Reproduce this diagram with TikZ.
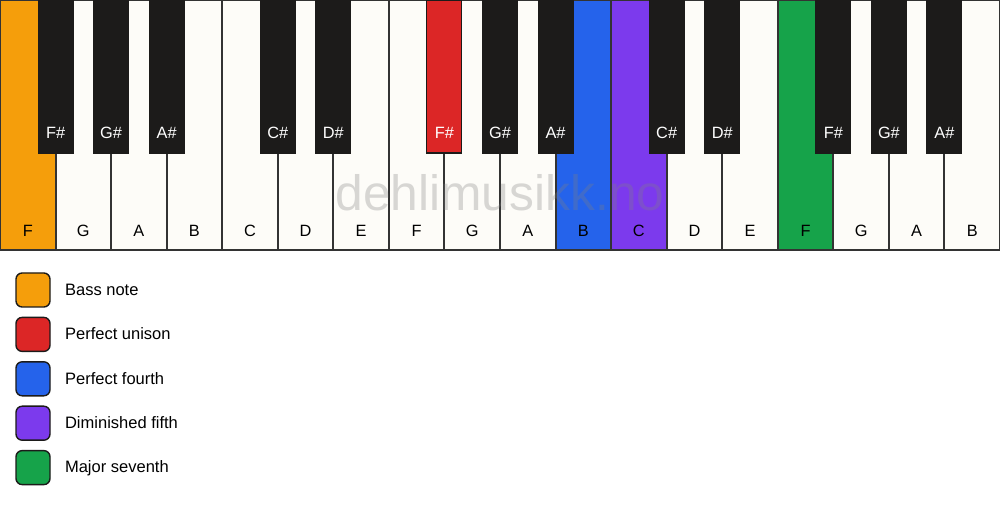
\documentclass[tikz,border=0pt]{standalone}
\usepackage{fontspec}
\setmainfont{Liberation Sans}
\usetikzlibrary{positioning}

\definecolor{keywhite}{HTML}{FDFCF8}
\definecolor{keyblack}{HTML}{1C1B1A}
\definecolor{keyedge}{HTML}{333333}
\definecolor{bassorange}{HTML}{F59E0B}
\definecolor{unisonred}{HTML}{DC2626}
\definecolor{fourthblue}{HTML}{2563EB}
\definecolor{fifthpurple}{HTML}{7C3AED}
\definecolor{seventhgreen}{HTML}{16A34A}

\tikzset{
  whitekey/.style={draw=keyedge, line width=1.1pt, fill=#1, rectangle, inner sep=0pt,
    minimum width=55.556*0.02cm, minimum height=250*0.02cm},
  whitekey/.default=keywhite,
  blackkey/.style={draw=keyblack, line width=0.6pt, fill=#1, rectangle, inner sep=0pt,
    minimum width=35*0.02cm, minimum height=153*0.02cm},
  blackkey/.default=keyblack,
  wname/.style={text=black, font=\fontsize{9.3}{11}\selectfont},
  bname/.style={text=white, font=\fontsize{9.3}{11}\selectfont},
  swatch/.style={draw=keyblack, line width=0.8pt, fill=#1, rounded corners=3.5pt,
    minimum size=34*0.02cm, inner sep=0pt},
  legendtext/.style={anchor=west, font=\fontsize{9.4}{11}\selectfont, inner sep=0pt,
    text height=1.6ex, text depth=0.45ex}
}

\begin{document}
\begin{tikzpicture}[x=0.02cm, y=-0.02cm]
            \useasboundingbox[fill=white] (0,0) rectangle (1000,506);

            % White keys
            \node[whitekey=bassorange] (w0) at (27.778,125) {};
            \node[whitekey] (w1) at (83.333,125) {};
            \node[whitekey] (w2) at (138.889,125) {};
            \node[whitekey] (w3) at (194.444,125) {};
            \node[whitekey] (w4) at (250.000,125) {};
            \node[whitekey] (w5) at (305.556,125) {};
            \node[whitekey] (w6) at (361.111,125) {};
            \node[whitekey] (w7) at (416.667,125) {};
            \node[whitekey] (w8) at (472.222,125) {};
            \node[whitekey] (w9) at (527.778,125) {};
            \node[whitekey=fourthblue] (w10) at (583.333,125) {};
            \node[whitekey=fifthpurple] (w11) at (638.889,125) {};
            \node[whitekey] (w12) at (694.444,125) {};
            \node[whitekey] (w13) at (750.000,125) {};
            \node[whitekey=seventhgreen] (w14) at (805.556,125) {};
            \node[whitekey] (w15) at (861.111,125) {};
            \node[whitekey] (w16) at (916.667,125) {};
            \node[whitekey] (w17) at (972.222,125) {};

            % White key names
            \node[wname] (n0) at (27.778,231) {F};
            \node[wname] (n1) at (83.333,231) {G};
            \node[wname] (n2) at (138.889,231) {A};
            \node[wname] (n3) at (194.444,231) {B};
            \node[wname] (n4) at (250.000,231) {C};
            \node[wname] (n5) at (305.556,231) {D};
            \node[wname] (n6) at (361.111,231) {E};
            \node[wname] (n7) at (416.667,231) {F};
            \node[wname] (n8) at (472.222,231) {G};
            \node[wname] (n9) at (527.778,231) {A};
            \node[wname] (n10) at (583.333,231) {B};
            \node[wname] (n11) at (638.889,231) {C};
            \node[wname] (n12) at (694.444,231) {D};
            \node[wname] (n13) at (750.000,231) {E};
            \node[wname] (n14) at (805.556,231) {F};
            \node[wname] (n15) at (861.111,231) {G};
            \node[wname] (n16) at (916.667,231) {A};
            \node[wname] (n17) at (972.222,231) {B};

            % Black keys
            \node[blackkey] (b1) at (55.556,76.5) {};
            \node[blackkey] (b2) at (111.111,76.5) {};
            \node[blackkey] (b3) at (166.667,76.5) {};
            \node[blackkey] (b5) at (277.778,76.5) {};
            \node[blackkey] (b6) at (333.333,76.5) {};
            \node[blackkey=unisonred] (b8) at (444.444,76.5) {};
            \node[blackkey] (b9) at (500.000,76.5) {};
            \node[blackkey] (b10) at (555.556,76.5) {};
            \node[blackkey] (b12) at (666.667,76.5) {};
            \node[blackkey] (b13) at (722.222,76.5) {};
            \node[blackkey] (b15) at (833.333,76.5) {};
            \node[blackkey] (b16) at (888.889,76.5) {};
            \node[blackkey] (b17) at (944.444,76.5) {};

            % Black key names
            \node[bname] (m1) at (55.556,133) {F\#};
            \node[bname] (m2) at (111.111,133) {G\#};
            \node[bname] (m3) at (166.667,133) {A\#};
            \node[bname] (m5) at (277.778,133) {C\#};
            \node[bname] (m6) at (333.333,133) {D\#};
            \node[bname] (m8) at (444.444,133) {F\#};
            \node[bname] (m9) at (500.000,133) {G\#};
            \node[bname] (m10) at (555.556,133) {A\#};
            \node[bname] (m12) at (666.667,133) {C\#};
            \node[bname] (m13) at (722.222,133) {D\#};
            \node[bname] (m15) at (833.333,133) {F\#};
            \node[bname] (m16) at (888.889,133) {G\#};
            \node[bname] (m17) at (944.444,133) {A\#};

            % Watermark
            \node[text=gray, text opacity=0.3, font=\fontsize{28.3}{32}\selectfont] (mark) at (500,193) {dehlimusikk.no};

            % Legend
            \node[swatch=bassorange] (s1) at (33,290) {};
            \node[swatch=unisonred] (s2) at (33,334.4) {};
            \node[swatch=fourthblue] (s3) at (33,378.8) {};
            \node[swatch=fifthpurple] (s4) at (33,423.2) {};
            \node[swatch=seventhgreen] (s5) at (33,467.6) {};
            \node[legendtext, right=14*0.02cm of s1] (t1) {Bass note};
            \node[legendtext, right=14*0.02cm of s2] (t2) {Perfect unison};
            \node[legendtext, right=14*0.02cm of s3] (t3) {Perfect fourth};
            \node[legendtext, right=14*0.02cm of s4] (t4) {Diminished fifth};
            \node[legendtext, right=14*0.02cm of s5] (t5) {Major seventh};
\end{tikzpicture}
\end{document}
